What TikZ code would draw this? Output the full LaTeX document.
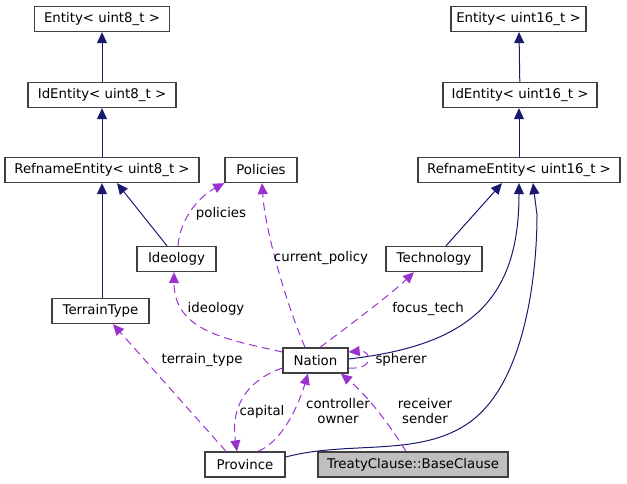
\documentclass[tikz,border=0pt]{standalone}
\usepackage{fontspec}
\setmainfont{DejaVu Sans}
\usetikzlibrary{arrows.meta}
\definecolor{ink}{HTML}{000000}
\definecolor{frame}{HTML}{404040}
\definecolor{inherit}{HTML}{191970}
\definecolor{usage}{HTML}{9A32CD}
\definecolor{mainfill}{HTML}{BFBFBF}
\tikzset{
  x=0.75pt, y=-0.75pt,
  every node/.style={font=\fontsize{10}{12}\selectfont,text=ink},
  box/.style={draw=frame,line width=1pt,fill=white,inner sep=0pt,minimum height=18.75pt},
  mainbox/.style={box,fill=mainfill},
  basearr/.style={-{Triangle[length=8.25pt,width=7.5pt]},draw=inherit,line width=0.75pt},
  usearr/.style={-{Triangle[length=8.25pt,width=7.5pt]},draw=usage,line width=0.75pt,dash pattern=on 6pt off 3.75pt},
  caption/.style={align=center,inner sep=1pt,font=\fontsize{10}{11}\selectfont},
}
\begin{document}
\begin{tikzpicture}
\useasboundingbox (0,0) rectangle (627,484);

% left hierarchy
\node[box,minimum width=101.25pt] (ent8) at (102,19) {Entity< uint8\_t >};
\node[box,minimum width=111pt] (id8) at (102,95) {IdEntity< uint8\_t >};
\node[box,minimum width=145.5pt] (ref8) at (102,170) {RefnameEntity< uint8\_t >};
\node[box,minimum width=54pt] (policies) at (261,170) {Policies};
\node[box,minimum width=59.25pt] (ideology) at (176.5,259) {Ideology};
\node[box,minimum width=72.75pt] (terrain) at (100.5,311) {TerrainType};

% right hierarchy
\node[box,minimum width=101.25pt] (ent16) at (518.5,19) {Entity< uint16\_t >};
\node[box,minimum width=115.5pt] (id16) at (520,95) {IdEntity< uint16\_t >};
\node[box,minimum width=151.5pt] (ref16) at (519,170) {RefnameEntity< uint16\_t >};
\node[box,minimum width=72pt] (tech) at (434,259) {Technology};

% bottom
\node[box,minimum width=48.75pt] (nation) at (315.5,360.5) {Nation};
\node[box,minimum width=60pt] (province) at (245,464.5) {Province};
\node[mainbox,minimum width=142.5pt] (clause) at (413,464.5) {TreatyClause::BaseClause};

% inheritance
\draw[basearr] (id8) -- (ent8);
\draw[basearr] (ref8) -- (id8);
\draw[basearr] (terrain.north -| 102,0) -- (ref8.south -| 102,0);
\draw[basearr] (ideology.north -| 167,0) -- (ref8.south -| 117,0);
\draw[basearr] (id16) -- (ent16.south -| 519,0);
\draw[basearr] (ref16) -- (id16.south -| 519,0);
\draw[basearr] (tech.north -| 446,0) -- (ref16.south -| 502,0);
\draw[basearr] (nation.east |- 0,359) .. controls (470,345) and (519,300) .. (ref16.south -| 519,0);
\draw[basearr] (province.east |- 0,457) .. controls (350,440) and (420,458) .. (470,422)
  .. controls (528,380) and (537,265) .. (537,215) -- (ref16.south -| 533,0);

% usage
\draw[usearr] (ideology.north -| 178,0) .. controls (180,218) and (200,196) .. (policies.south west);
\draw[usearr] (nation.north -| 305,0) .. controls (285,300) and (265,230) .. (policies.south -| 262,0);
\draw[usearr] (nation.west |- 0,352) .. controls (230,340) and (174,332) .. (ideology.south -| 174,0);
\draw[usearr] (nation.north -| 320,0) .. controls (350,325) and (390,295) .. (tech.south -| 414,0);
\draw[usearr] (province.north -| 226,0) -- (terrain.south -| 113,0);
\draw[usearr] (nation.west |- 0,368) .. controls (242,382) and (231,412) .. (province.north -| 237,0);
\draw[usearr] (province.north -| 258,0) .. controls (285,440) and (300,400) .. (nation.south -| 308,0);
\draw[usearr] (nation.east |- 0,368) .. controls (375,370) and (372,350) .. (nation.east |- 0,352);
\draw[usearr] (clause.north -| 406,0) .. controls (393,430) and (370,398) .. (nation.south -| 341,0);

% labels
\node[caption] (lpol) at (221,214) {policies};
\node[caption] (lcur) at (321,258) {current\_policy};
\node[caption] (lide) at (216,309) {ideology};
\node[caption] (lfoc) at (428,309) {focus\_tech};
\node[caption] (lter) at (202,360) {terrain\_type};
\node[caption] (lsph) at (401,360) {spherer};
\node[caption] (lcap) at (262,412) {capital};
\node[caption] (lown) at (338,411) {controller\\owner};
\node[caption] (lrec) at (425,411) {receiver\\sender};

\end{tikzpicture}
\end{document}
